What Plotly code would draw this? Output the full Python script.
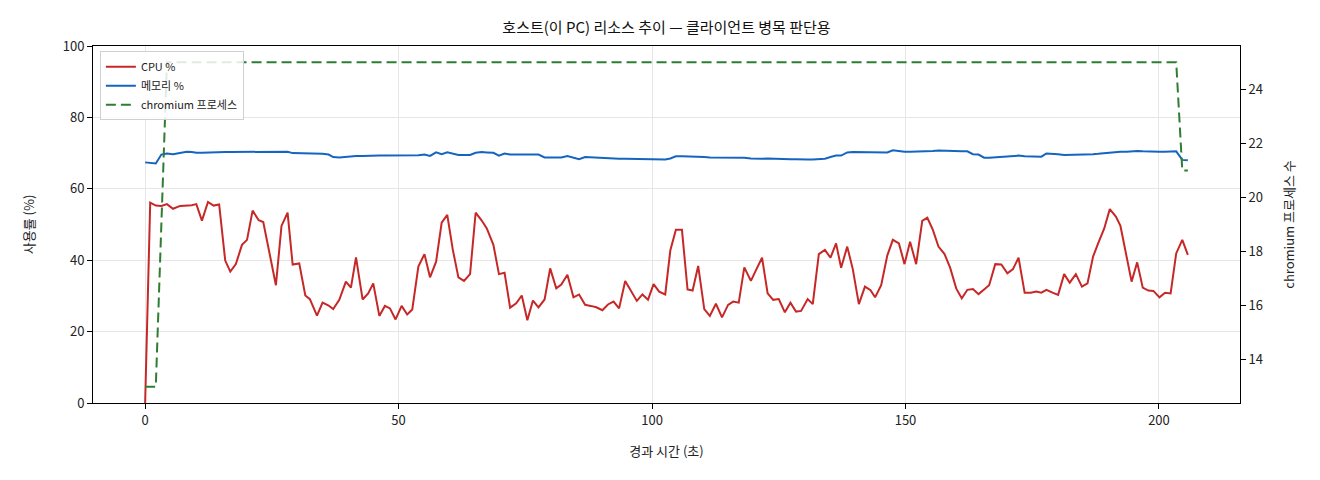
import plotly.graph_objects as go

# 경과 시간 (초) — 샘플 간격이 일정하지 않아 그림에서 읽은 값 그대로
elapsed = [
    0.0, 1.0, 2.1, 3.2, 4.3, 5.5, 6.9, 8.2, 9.2, 10.1,
    11.2, 12.4, 13.5, 14.6, 15.8, 16.8, 17.9, 19.1, 20.1, 21.2,
    22.4, 23.3, 24.5, 25.8, 26.9, 28.1, 29.1, 30.4, 31.6, 32.5,
    33.9, 35.0, 36.2, 37.1, 38.3, 39.6, 40.6, 41.6, 42.9, 44.0,
    45.0, 46.2, 47.3, 48.3, 49.4, 50.6, 51.7, 52.7, 53.9, 55.1,
    56.2, 57.4, 58.5, 59.6, 60.7, 61.8, 62.9, 64.1, 65.2, 66.4,
    67.4, 68.7, 69.8, 70.9, 72.0, 73.2, 74.3, 75.4, 76.5, 77.6,
    78.8, 79.9, 81.1, 82.1, 83.3, 84.5, 85.6, 86.8, 87.9, 89.0,
    90.2, 91.3, 92.4, 93.5, 94.7, 95.8, 97.0, 98.1, 99.2, 100.3,
    101.4, 102.6, 103.6, 104.7, 105.9, 107.0, 108.0, 109.1, 110.3, 111.4,
    112.6, 113.8, 115.0, 116.0, 117.1, 118.2, 119.5, 120.6, 121.7, 122.8,
    123.9, 125.0, 126.2, 127.3, 128.4, 129.4, 130.7, 131.7, 132.9, 134.1,
    135.2, 136.3, 137.3, 138.5, 139.6, 140.8, 142.0, 143.1, 144.0, 145.2,
    146.4, 147.5, 148.7, 149.8, 150.9, 152.1, 153.3, 154.3, 155.4, 156.5,
    157.7, 158.8, 160.0, 161.1, 162.2, 163.3, 164.4, 165.5, 166.5, 167.7,
    168.9, 170.1, 171.2, 172.3, 173.5, 174.7, 175.8, 176.8, 177.8, 179.0,
    180.1, 181.3, 182.4, 183.6, 184.8, 185.9, 187.0, 188.0, 189.2, 190.3,
    191.5, 192.4, 193.6, 194.6, 195.7, 196.8, 197.9, 198.9, 200.1, 201.2,
    202.3, 203.4, 204.6, 205.7,
]

cpu_pct = [
    0.0, 56.1, 55.3, 55.2, 55.7, 54.4, 55.2, 55.3, 55.4, 55.7,
    51.1, 56.3, 55.3, 55.6, 39.9, 36.8, 38.9, 44.3, 45.7, 53.9,
    51.2, 50.7, 41.9, 33.0, 49.6, 53.3, 38.8, 39.1, 30.1, 29.1,
    24.5, 28.1, 27.3, 26.3, 28.9, 34.0, 32.3, 40.8, 29.0, 30.7,
    33.5, 24.4, 27.2, 26.5, 23.4, 27.2, 24.8, 26.2, 38.2, 41.7,
    35.2, 39.6, 50.5, 52.7, 42.9, 35.2, 34.2, 36.1, 53.3, 51.1,
    48.9, 44.3, 36.1, 36.5, 26.7, 27.9, 30.1, 23.2, 28.7, 26.8,
    29.0, 37.7, 32.1, 33.2, 35.9, 29.6, 30.4, 27.5, 27.2, 26.8,
    26.0, 27.6, 28.4, 26.5, 34.2, 31.5, 28.6, 30.4, 28.9, 33.3,
    31.2, 30.4, 42.7, 48.5, 48.5, 31.8, 31.5, 38.4, 26.3, 24.4,
    27.8, 24.0, 27.5, 28.4, 28.1, 38.0, 34.2, 37.5, 40.7, 30.7,
    28.9, 29.1, 25.4, 28.1, 25.6, 25.8, 29.1, 27.7, 41.7, 42.9,
    40.7, 44.7, 37.9, 43.8, 37.5, 27.7, 32.6, 31.6, 29.6, 33.0,
    41.3, 45.7, 44.7, 38.9, 45.2, 38.9, 51.0, 51.9, 48.5, 43.8,
    41.7, 37.9, 32.1, 29.3, 31.7, 31.9, 30.5, 31.8, 33.0, 38.9,
    38.8, 36.3, 37.5, 40.7, 30.9, 30.9, 31.2, 30.9, 31.7, 30.9,
    30.3, 36.1, 33.7, 36.1, 32.6, 33.5, 41.0, 44.7, 48.9, 54.3,
    52.2, 49.6, 41.3, 34.0, 39.4, 32.3, 31.5, 31.4, 29.6, 30.9,
    30.7, 41.9, 45.7, 41.5,
]

mem_pct = [
    67.4, 67.2, 67.1, 69.6, 69.9, 69.7, 70.1, 70.4, 70.3, 70.1,
    70.1, 70.2, 70.2, 70.2, 70.3, 70.3, 70.3, 70.3, 70.3, 70.3,
    70.2, 70.2, 70.3, 70.3, 70.4, 70.4, 70.0, 70.0, 70.0, 70.0,
    69.9, 69.8, 69.6, 68.9, 68.8, 69.0, 69.2, 69.2, 69.2, 69.3,
    69.3, 69.3, 69.3, 69.3, 69.3, 69.2, 69.2, 69.2, 69.4, 69.6,
    69.2, 70.2, 69.7, 70.2, 69.9, 69.5, 69.5, 69.5, 70.1, 70.3,
    70.2, 70.1, 69.3, 69.9, 69.6, 69.6, 69.6, 69.6, 69.6, 69.6,
    68.8, 68.8, 68.8, 68.8, 69.2, 68.8, 68.3, 68.9, 68.8, 68.6,
    68.5, 68.4, 68.3, 68.4, 68.4, 68.4, 68.4, 68.4, 68.4, 68.3,
    68.2, 68.2, 68.5, 69.1, 69.1, 69.1, 69.1, 69.0, 68.9, 68.8,
    68.8, 68.7, 68.7, 68.8, 68.8, 68.7, 68.5, 68.4, 68.4, 68.5,
    68.4, 68.4, 68.4, 68.3, 68.3, 68.2, 68.2, 68.2, 68.3, 68.4,
    68.9, 69.3, 69.3, 70.2, 70.3, 70.3, 70.3, 70.2, 70.2, 70.2,
    70.2, 70.8, 70.5, 70.4, 70.4, 70.4, 70.6, 70.6, 70.6, 70.7,
    70.6, 70.6, 70.5, 70.5, 70.5, 69.7, 69.6, 68.7, 68.7, 68.8,
    68.9, 69.0, 69.1, 69.3, 69.1, 69.0, 69.0, 69.0, 69.9, 69.9,
    69.7, 69.5, 69.5, 69.5, 69.5, 69.5, 69.7, 69.8, 70.0, 70.1,
    70.3, 70.4, 70.4, 70.5, 70.6, 70.5, 70.4, 70.4, 70.4, 70.4,
    70.4, 70.5, 68.1, 68.0,
]

chromium_count = [
    13, 13, 13, 19, 25, 25, 25, 25, 25, 25,
    25, 25, 25, 25, 25, 25, 25, 25, 25, 25,
    25, 25, 25, 25, 25, 25, 25, 25, 25, 25,
    25, 25, 25, 25, 25, 25, 25, 25, 25, 25,
    25, 25, 25, 25, 25, 25, 25, 25, 25, 25,
    25, 25, 25, 25, 25, 25, 25, 25, 25, 25,
    25, 25, 25, 25, 25, 25, 25, 25, 25, 25,
    25, 25, 25, 25, 25, 25, 25, 25, 25, 25,
    25, 25, 25, 25, 25, 25, 25, 25, 25, 25,
    25, 25, 25, 25, 25, 25, 25, 25, 25, 25,
    25, 25, 25, 25, 25, 25, 25, 25, 25, 25,
    25, 25, 25, 25, 25, 25, 25, 25, 25, 25,
    25, 25, 25, 25, 25, 25, 25, 25, 25, 25,
    25, 25, 25, 25, 25, 25, 25, 25, 25, 25,
    25, 25, 25, 25, 25, 25, 25, 25, 25, 25,
    25, 25, 25, 25, 25, 25, 25, 25, 25, 25,
    25, 25, 25, 25, 25, 25, 25, 25, 25, 25,
    25, 25, 25, 25, 25, 25, 25, 25, 25, 25,
    25, 25, 21, 21,
]

left_ticks = [0, 20, 40, 60, 80, 100]
right_ticks = [14, 16, 18, 20, 22, 24]
x_ticks = [0, 50, 100, 150, 200]

FONT = "Noto Sans CJK KR, Noto Sans, sans-serif"

# 페이지 body 여백(8px)을 빼고 창 안에 들어가게
W, H = 1304, 464

fig = go.Figure()

fig.add_trace(go.Scatter(
    x=elapsed, y=cpu_pct, mode="lines", name="CPU %",
    line=dict(color="#c62828", width=2),
))
fig.add_trace(go.Scatter(
    x=elapsed, y=mem_pct, mode="lines", name="메모리 %",
    line=dict(color="#1565c0", width=2),
))
fig.add_trace(go.Scatter(
    x=elapsed, y=chromium_count, mode="lines", name="chromium 프로세스",
    line=dict(color="#2e7d32", width=2, dash="10px,5px"),
    yaxis="y2",
))

axis_common = dict(
    showline=True, linecolor="black", linewidth=1,
    ticks="outside", ticklen=5, tickcolor="black",
    tickfont=dict(size=13, color="#222"),
    zeroline=False,
)

fig.update_layout(
    width=W, height=H,
    margin=dict(l=85, r=72, t=38, b=69),
    paper_bgcolor="white", plot_bgcolor="white",
    font=dict(family=FONT, color="#222"),
    title=dict(
        text="호스트(이 PC) 리소스 추이 — 클라이언트 병목 판단용",
        x=(85 + (W - 72)) / 2 / W, xanchor="center", y=1 - 20 / H, yanchor="middle",
        font=dict(size=15, color="#111"),
    ),
    xaxis=dict(
        **axis_common,
        range=[-10.285, 215.985], tickvals=x_ticks, mirror=True,
        showgrid=True, gridcolor="#e6e6e6",
        title=dict(text="경과 시간 (초)", font=dict(size=13), standoff=19),
    ),
    yaxis=dict(
        **axis_common,
        range=[0, 100], tickvals=left_ticks,
        showgrid=True, gridcolor="#e6e6e6",
        title=dict(text="사용률 (%)", font=dict(size=13), standoff=25),
    ),
    yaxis2=dict(
        **axis_common,
        overlaying="y", side="right",
        range=[12.4, 25.6], tickvals=right_ticks, showgrid=False,
        title=dict(text="chromium 프로세스 수", font=dict(size=13), standoff=22),
    ),
    legend=dict(
        x=0.006, y=0.985, xanchor="left", yanchor="top",
        bgcolor="rgba(255,255,255,0.85)", bordercolor="#d0d0d0", borderwidth=1,
        font=dict(size=11, color="#222"),
    ),
    showlegend=True,
)

fig.write_html("out.html")
